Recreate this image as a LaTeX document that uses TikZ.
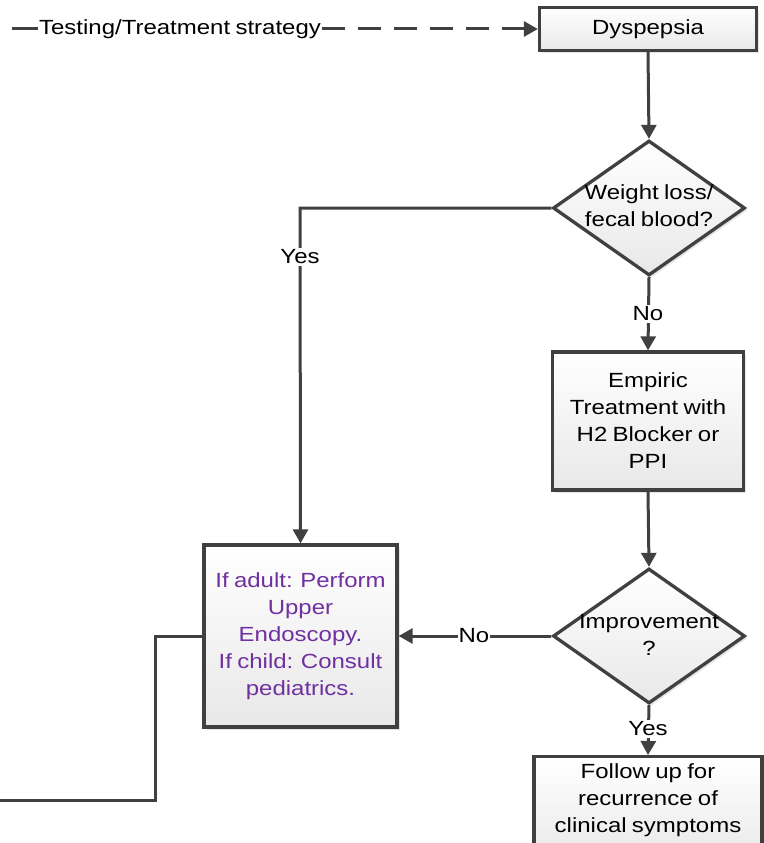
\documentclass[tikz,border=0pt]{standalone}
\usepackage{fontspec}
\setmainfont{Liberation Sans}[FakeStretch=1.17, WordSpace=0.8]
\usetikzlibrary{shapes.geometric,arrows.meta,shadows}
\definecolor{edge}{HTML}{404040}
\definecolor{purp}{HTML}{7030A0}
\tikzset{
  x=1pt, y=-1pt,
  every node/.style={font=\fontsize{20.5}{27}\selectfont, text=black},
  boxshape/.style={draw=edge, line width=3.3pt, top color=white, bottom color=black!9,
    drop shadow={shadow xshift=2.5pt, shadow yshift=-2.5pt, fill=black!20, opacity=0.5},
    align=center, inner sep=0pt},
  decision/.style={diamond, draw=edge, line width=3.3pt, top color=white, bottom color=black!9,
    drop shadow={shadow xshift=2.5pt, shadow yshift=-2.5pt, fill=black!20, opacity=0.5},
    inner sep=0pt, minimum width=192pt, minimum height=135pt},
  txt/.style={align=center, inner sep=0pt},
  conn/.style={draw=edge, line width=3pt},
  arr/.style={conn, -{Triangle[length=14pt,width=15pt]}},
  lbl/.style={fill=white, inner sep=2pt}
}
\begin{document}
\begin{tikzpicture}
\useasboundingbox (0,0) rectangle (763,843);
\fill[white] (0,0) rectangle (763,843);

\node[boxshape, minimum width=217pt, minimum height=43pt] (dys) at (648,29) {Dyspepsia};
\node[decision] (d1) at (649,208) {};
\node[txt] (d1t) at (649,206) {Weight loss/\\fecal blood?};
\node[boxshape, minimum width=191pt, minimum height=138pt] (emp) at (648,421) {Empiric\\Treatment with\\H2 Blocker or\\PPI};
\node[decision] (d2) at (649,636) {};
\node[txt] (d2t) at (649,635) {Improvement\\?};
\node[boxshape, minimum width=193pt, minimum height=182pt, text=purp] (endo) at (300.5,636) {If adult: Perform\\Upper\\Endoscopy.\\If child: Consult\\pediatrics.};
\node[boxshape, minimum width=228pt, minimum height=110pt, anchor=north] (fol) at (648,755) {};
\node[txt] (folt) at (648,800) {Follow up for\\recurrence of\\clinical symptoms};

\coordinate (start) at (12,29);
\coordinate (yesturn) at (300,208);
\coordinate (o1) at (155,636);
\coordinate (o2) at (155,800);
\coordinate (o3) at (0,800);

\node[inner xsep=0.5pt, inner ysep=2pt] (strat) at (180,29) {Testing/Treatment strategy};
\draw[conn] (start) -- (strat.west);
\draw[arr, dash pattern=on 23pt off 13pt] (strat.east) -- (dys.west);

\draw[arr] (dys.south) -- (d1.north);
\draw[arr] (d1.west) -- (yesturn) -- (endo.north);
\node[lbl] (yes1) at (300,257) {Yes};
\draw[arr] (d1.south) -- (emp.north);
\node[lbl] (no1) at (648,314) {No};
\draw[arr] (emp.south) -- (d2.north);
\draw[arr] (d2.west) -- (endo.east);
\node[lbl, inner xsep=1pt] (no2) at (474,636) {No};
\draw[arr] (d2.south) -- (fol.north);
\node[lbl] (yes2) at (648,729) {Yes};
\draw[conn] (endo.west) -- (o1) -- (o2) -- (o3);
\end{tikzpicture}
\end{document}
